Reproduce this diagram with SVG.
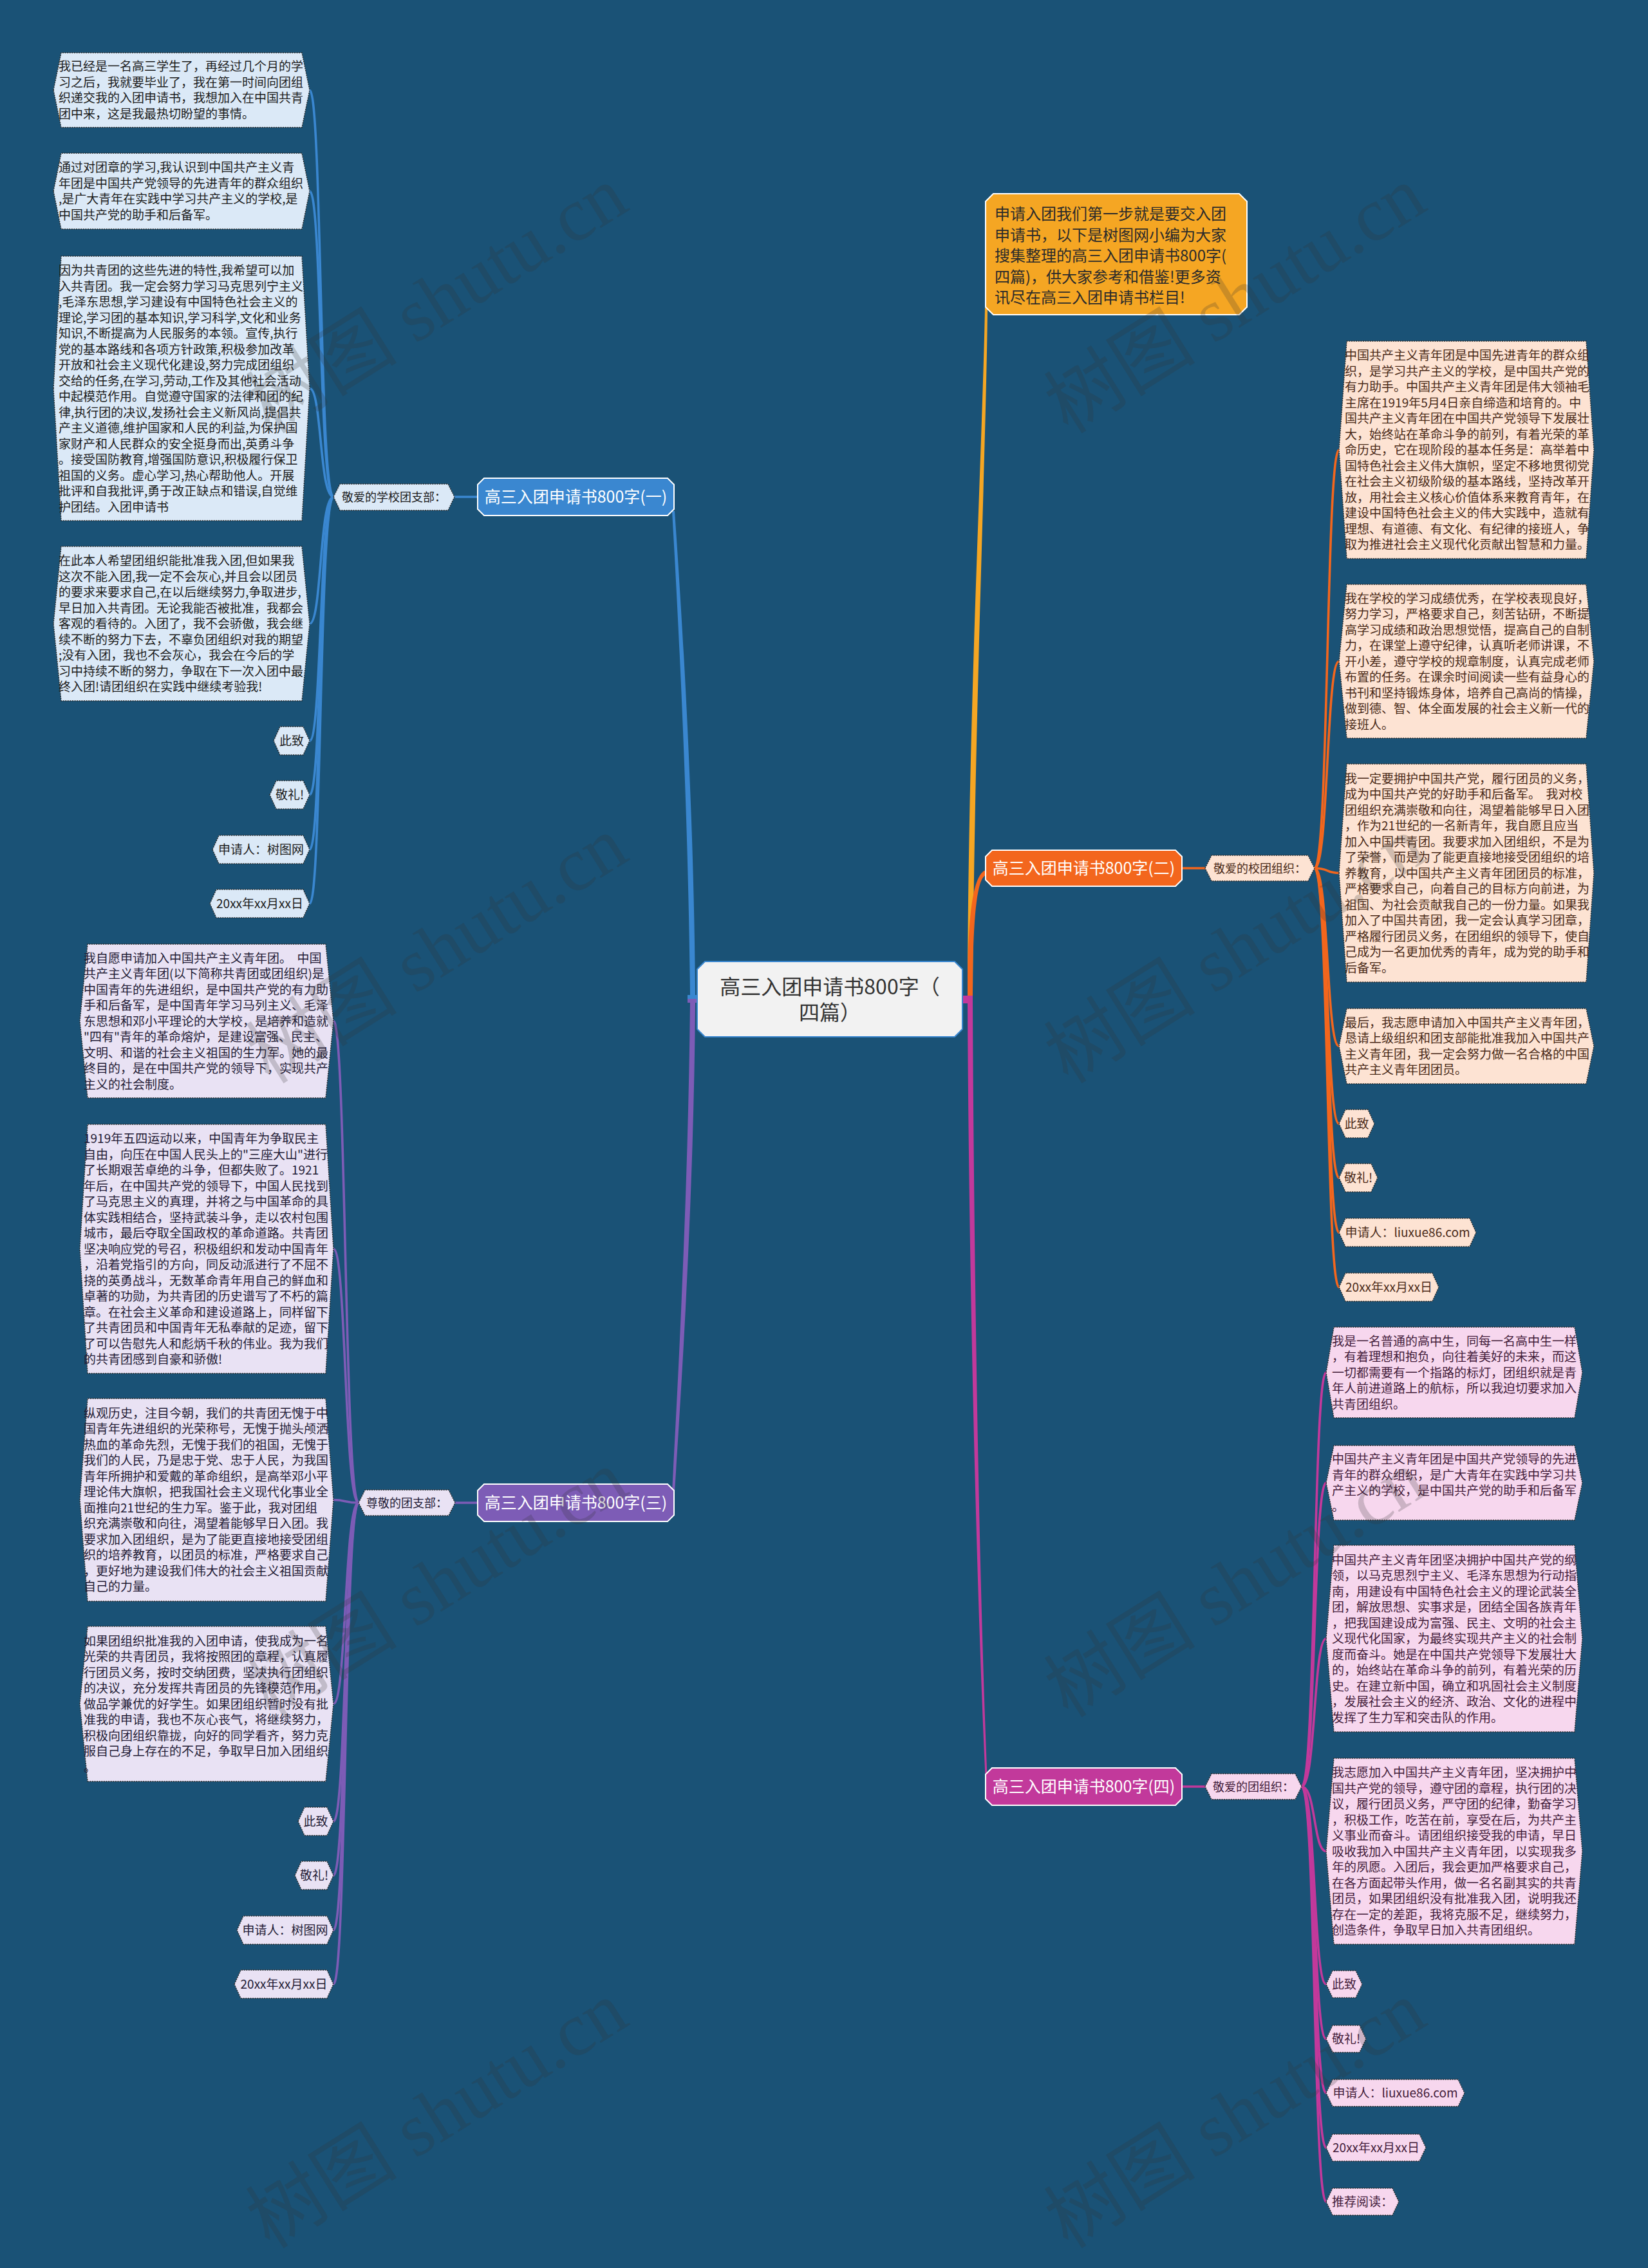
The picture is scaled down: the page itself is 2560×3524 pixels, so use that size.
<svg xmlns="http://www.w3.org/2000/svg" width="2560" height="3524" viewBox="0 0 2560 3524">
<style>
.tx{font-family:"Noto Sans CJK SC","Noto Sans",sans-serif;font-size:19px}
.sb{font-family:"Noto Sans CJK SC","Noto Sans",sans-serif;font-size:18px;text-anchor:middle}
.br{font-family:"Noto Sans CJK SC","Noto Sans",sans-serif;font-size:25px;fill:#fff;text-anchor:middle}
.m{text-anchor:middle}
.lf{stroke:#2a2a2a;stroke-width:1.4;stroke-dasharray:2 1.6}
.f1{fill:#dbe9f7}.f2{fill:#fde3d3}.f3{fill:#e9e2f4}.f4{fill:#f7d7ee}
.c1{fill:#1c1c1c}.c2{fill:#4a2a18}.c3{fill:#241c36}.c4{fill:#431c3a}
.bn{stroke:#fff;stroke-width:2}
.k{fill:none;stroke-width:3.6;stroke-linecap:round}
.wm{font-family:"Liberation Serif","Noto Sans CJK SC",serif;font-size:118px;fill:#333;fill-opacity:0.22;text-anchor:middle}
</style>
<rect x="0" y="0" width="2560" height="3524" fill="#1a5276"/>

<g id="connectors">
  <path fill="#f5a623" d="M1495,1545 L1503,1545 C1504,1100 1526,700 1530,478 L1534,478 C1532,700 1514,1100 1511,1545 Z"/>
  <path fill="#f3661d" d="M1495,1548 L1503,1548 C1503,1430 1510,1360 1531,1352 L1531,1360 C1516,1366 1511,1440 1511,1548 Z"/>
  <path fill="#c2399b" d="M1495,1553 L1511,1553 C1513,2000 1522,2500 1534,2768 L1531,2770 C1518,2500 1505,2000 1503,1559 L1495,1559 Z"/>
  <rect x="1495" y="1547" width="16" height="11" fill="#c2399b"/>
  <path fill="#3a87d0" d="M1083,1546 L1072,1546 C1069,1250 1053,950 1044,794 L1048,794 C1059,950 1078,1250 1080,1546 Z"/>
  <path fill="#7d5cb6" d="M1083,1558 L1072,1558 C1069,1850 1053,2150 1044,2318 L1048,2318 C1059,2150 1078,1850 1080,1558 Z"/>
  <rect x="1068" y="1546" width="16" height="6" fill="#3a87d0"/>
  <rect x="1068" y="1552" width="16" height="6" fill="#7d5cb6"/>
  <path class="k" stroke="#3a87d0" d="M742,772 L706,772"/>
  <path class="k" stroke="#7d5cb6" d="M742,2335 L707,2335"/>
  <path class="k" stroke="#f3661d" d="M1836,1349 L1872,1349"/>
  <path class="k" stroke="#c2399b" d="M1836,2776 L1872,2776"/>
  <g class="k" stroke="#3a87d0">
    <path d="M518,772 C496,772 500,140 481,140"/>
    <path d="M518,772 C496,772 500,297 481,297"/>
    <path d="M518,772 C496,772 500,603.5 481,603.5"/>
    <path d="M518,772 C496,772 500,969 481,969"/>
    <path d="M518,772 C496,772 500,1151 481,1151"/>
    <path d="M518,772 C496,772 500,1235 481,1235"/>
    <path d="M518,772 C496,772 500,1320 481,1320"/>
    <path d="M518,772 C496,772 500,1404 481,1404"/>
  </g>
  <g class="k" stroke="#7d5cb6">
    <path d="M557,2335 C535,2335 538,1586.5 518,1586.5"/>
    <path d="M557,2335 C535,2335 538,1940.5 518,1940.5"/>
    <path d="M557,2335 C535,2335 538,2330.5 518,2330.5"/>
    <path d="M557,2335 C535,2335 538,2647.5 518,2647.5"/>
    <path d="M557,2335 C535,2335 538,2830 518,2830"/>
    <path d="M557,2335 C535,2335 538,2914 518,2914"/>
    <path d="M557,2335 C535,2335 538,2999 518,2999"/>
    <path d="M557,2335 C535,2335 538,3083 518,3083"/>
  </g>
  <g class="k" stroke="#f3661d">
    <path d="M2042,1349 C2064,1349 2060,699 2080,699"/>
    <path d="M2042,1349 C2064,1349 2060,1027.5 2080,1027.5"/>
    <path d="M2042,1349 C2064,1349 2060,1356.5 2080,1356.5"/>
    <path d="M2042,1349 C2064,1349 2060,1625.5 2080,1625.5"/>
    <path d="M2042,1349 C2064,1349 2060,1746 2080,1746"/>
    <path d="M2042,1349 C2064,1349 2060,1830 2080,1830"/>
    <path d="M2042,1349 C2064,1349 2060,1915 2080,1915"/>
    <path d="M2042,1349 C2064,1349 2060,2000 2080,2000"/>
  </g>
  <g class="k" stroke="#c2399b">
    <path d="M2022,2776 C2044,2776 2040,2132.5 2060,2132.5"/>
    <path d="M2022,2776 C2044,2776 2040,2304 2060,2304"/>
    <path d="M2022,2776 C2044,2776 2040,2546 2060,2546"/>
    <path d="M2022,2776 C2044,2776 2040,2876.5 2060,2876.5"/>
    <path d="M2022,2776 C2044,2776 2040,3083 2060,3083"/>
    <path d="M2022,2776 C2044,2776 2040,3168 2060,3168"/>
    <path d="M2022,2776 C2044,2776 2040,3252 2060,3252"/>
    <path d="M2022,2776 C2044,2776 2040,3337 2060,3337"/>
    <path d="M2022,2776 C2044,2776 2040,3421 2060,3421"/>
  </g>
</g>

<g id="node-center">
  <polygon points="1095,1494 1483,1494 1495,1506 1495,1599 1483,1611 1095,1611 1083,1599 1083,1506" fill="#f2f2f2" stroke="#3a87d0" stroke-width="2"/>
  <text class="tx m" style="font-size:32px" fill="#333" x="1289" y="1545">高三入团申请书800字（</text>
  <text class="tx m" style="font-size:32px" fill="#333" x="1289" y="1585">四篇）</text>
</g>

<g id="node-intro">
  <polygon points="1543,301 1925,301 1937,313 1937,477 1925,489 1543,489 1531,477 1531,313" fill="#f5a623" stroke="#fff" stroke-width="2"/>
  <text class="tx" style="font-size:24px" fill="#2b2b2b" x="1545" y="341"><tspan x="1545">申请入团我们第一步就是要交入团</tspan><tspan x="1545" dy="32.5">申请书，以下是树图网小编为大家</tspan><tspan x="1545" dy="32.5">搜集整理的高三入团申请书800字(</tspan><tspan x="1545" dy="32.5">四篇)，供大家参考和借鉴!更多资</tspan><tspan x="1545" dy="32.5">讯尽在高三入团申请书栏目!</tspan></text>
</g>

<g id="node-b1">
  <polygon class="bn" points="752,743 1037,743 1047,753 1047,791 1037,801 752,801 742,791 742,753" fill="#3a87d0"/>
  <text class="br" x="894.5" y="781">高三入团申请书800字(一)</text>
</g>
<g id="node-b1-sub">
  <polygon class="lf f1" points="518,772 528,752 696,752 706,772 696,793 528,793"/>
  <text class="sb c1" x="612" y="779">敬爱的学校团支部：</text>
</g>
<g id="node-b1-l1">
  <polygon class="lf f1" points="83,140 95,82 469,82 481,140 469,198 95,198"/>
  <text class="tx c1" y="110"><tspan x="91">我已经是一名高三学生了，再经过几个月的学</tspan><tspan x="91" dy="24.5">习之后，我就要毕业了，我在第一时间向团组</tspan><tspan x="91" dy="24.5">织递交我的入团申请书，我想加入在中国共青</tspan><tspan x="91" dy="24.5">团中来，这是我最热切盼望的事情。</tspan></text>
</g>
<g id="node-b1-l2">
  <polygon class="lf f1" points="83,297 95,238 469,238 481,297 469,356 95,356"/>
  <text class="tx c1" y="267"><tspan x="91">通过对团章的学习,我认识到中国共产主义青</tspan><tspan x="91" dy="24.5">年团是中国共产党领导的先进青年的群众组织</tspan><tspan x="91" dy="24.5">,是广大青年在实践中学习共产主义的学校,是</tspan><tspan x="91" dy="24.5">中国共产党的助手和后备军。</tspan></text>
</g>
<g id="node-b1-l3">
  <polygon class="lf f1" points="83,603.5 95,398 469,398 481,603.5 469,809 95,809"/>
  <text class="tx c1" y="427"><tspan x="91">因为共青团的这些先进的特性,我希望可以加</tspan><tspan x="91" dy="24.5">入共青团。我一定会努力学习马克思列宁主义</tspan><tspan x="91" dy="24.5">,毛泽东思想,学习建设有中国特色社会主义的</tspan><tspan x="91" dy="24.5">理论,学习团的基本知识,学习科学,文化和业务</tspan><tspan x="91" dy="24.5">知识,不断提高为人民服务的本领。宣传,执行</tspan><tspan x="91" dy="24.5">党的基本路线和各项方针政策,积极参加改革</tspan><tspan x="91" dy="24.5">开放和社会主义现代化建设,努力完成团组织</tspan><tspan x="91" dy="24.5">交给的任务,在学习,劳动,工作及其他社会活动</tspan><tspan x="91" dy="24.5">中起模范作用。自觉遵守国家的法律和团的纪</tspan><tspan x="91" dy="24.5">律,执行团的决议,发扬社会主义新风尚,提倡共</tspan><tspan x="91" dy="24.5">产主义道德,维护国家和人民的利益,为保护国</tspan><tspan x="91" dy="24.5">家财产和人民群众的安全挺身而出,英勇斗争</tspan><tspan x="91" dy="24.5">。接受国防教育,增强国防意识,积极履行保卫</tspan><tspan x="91" dy="24.5">祖国的义务。虚心学习,热心帮助他人。开展</tspan><tspan x="91" dy="24.5">批评和自我批评,勇于改正缺点和错误,自觉维</tspan><tspan x="91" dy="24.5">护团结。入团申请书</tspan></text>
</g>
<g id="node-b1-l4">
  <polygon class="lf f1" points="83,969 95,849 469,849 481,969 469,1089 95,1089"/>
  <text class="tx c1" y="878"><tspan x="91">在此本人希望团组织能批准我入团,但如果我</tspan><tspan x="91" dy="24.5">这次不能入团,我一定不会灰心,并且会以团员</tspan><tspan x="91" dy="24.5">的要求来要求自己,在以后继续努力,争取进步,</tspan><tspan x="91" dy="24.5">早日加入共青团。无论我能否被批准，我都会</tspan><tspan x="91" dy="24.5">客观的看待的。入团了，我不会骄傲，我会继</tspan><tspan x="91" dy="24.5">续不断的努力下去，不辜负团组织对我的期望</tspan><tspan x="91" dy="24.5">;没有入团，我也不会灰心，我会在今后的学</tspan><tspan x="91" dy="24.5">习中持续不断的努力，争取在下一次入团中最</tspan><tspan x="91" dy="24.5">终入团!请团组织在实践中继续考验我!</tspan></text>
</g>
<g id="node-b1-l5">
  <polygon class="lf f1" points="425,1151 435,1129 471,1129 481,1151 471,1173 435,1173"/>
  <text class="tx c1 m" x="453" y="1158">此致</text>
</g>
<g id="node-b1-l6">
  <polygon class="lf f1" points="419,1235 429,1213 471,1213 481,1235 471,1257 429,1257"/>
  <text class="tx c1 m" x="450" y="1242">敬礼!</text>
</g>
<g id="node-b1-l7">
  <polygon class="lf f1" points="330,1320 340,1298 471,1298 481,1320 471,1342 340,1342"/>
  <text class="tx c1 m" x="405.5" y="1327">申请人：树图网</text>
</g>
<g id="node-b1-l8">
  <polygon class="lf f1" points="326,1404 336,1382 471,1382 481,1404 471,1426 336,1426"/>
  <text class="tx c1 m" x="403.5" y="1411">20xx年xx月xx日</text>
</g>

<g id="node-b2">
  <polygon class="bn" points="1541,1321 1826,1321 1836,1331 1836,1367 1826,1377 1541,1377 1531,1367 1531,1331" fill="#f3661d"/>
  <text class="br" x="1683.5" y="1358">高三入团申请书800字(二)</text>
</g>
<g id="node-b2-sub">
  <polygon class="lf f2" points="1872,1349 1882,1329 2032,1329 2042,1349 2032,1369 1882,1369"/>
  <text class="sb c2" x="1957" y="1356">敬爱的校团组织：</text>
</g>
<g id="node-b2-l1">
  <polygon class="lf f2" points="2080,699 2092,530 2464,530 2476,699 2464,868 2092,868"/>
  <text class="tx c2" y="559"><tspan x="2089">中国共产主义青年团是中国先进青年的群众组</tspan><tspan x="2089" dy="24.5">织，是学习共产主义的学校，是中国共产党的</tspan><tspan x="2089" dy="24.5">有力助手。中国共产主义青年团是伟大领袖毛</tspan><tspan x="2089" dy="24.5">主席在1919年5月4日亲自缔造和培育的。中</tspan><tspan x="2089" dy="24.5">国共产主义青年团在中国共产党领导下发展壮</tspan><tspan x="2089" dy="24.5">大，始终站在革命斗争的前列，有着光荣的革</tspan><tspan x="2089" dy="24.5">命历史，它在现阶段的基本任务是：高举着中</tspan><tspan x="2089" dy="24.5">国特色社会主义伟大旗帜，坚定不移地贯彻党</tspan><tspan x="2089" dy="24.5">在社会主义初级阶级的基本路线，坚持改革开</tspan><tspan x="2089" dy="24.5">放，用社会主义核心价值体系来教育青年，在</tspan><tspan x="2089" dy="24.5">建设中国特色社会主义的伟大实践中，造就有</tspan><tspan x="2089" dy="24.5">理想、有道德、有文化、有纪律的接班人，争</tspan><tspan x="2089" dy="24.5">取为推进社会主义现代化贡献出智慧和力量。</tspan></text>
</g>
<g id="node-b2-l2">
  <polygon class="lf f2" points="2080,1027.5 2092,908 2464,908 2476,1027.5 2464,1147 2092,1147"/>
  <text class="tx c2" y="936.5"><tspan x="2089">我在学校的学习成绩优秀，在学校表现良好，</tspan><tspan x="2089" dy="24.5">努力学习，严格要求自己，刻苦钻研，不断提</tspan><tspan x="2089" dy="24.5">高学习成绩和政治思想觉悟，提高自己的自制</tspan><tspan x="2089" dy="24.5">力，在课堂上遵守纪律，认真听老师讲课，不</tspan><tspan x="2089" dy="24.5">开小差，遵守学校的规章制度，认真完成老师</tspan><tspan x="2089" dy="24.5">布置的任务。在课余时间阅读一些有益身心的</tspan><tspan x="2089" dy="24.5">书刊和坚持锻炼身体，培养自己高尚的情操，</tspan><tspan x="2089" dy="24.5">做到德、智、体全面发展的社会主义新一代的</tspan><tspan x="2089" dy="24.5">接班人。</tspan></text>
</g>
<g id="node-b2-l3">
  <polygon class="lf f2" points="2080,1356.5 2092,1187 2464,1187 2476,1356.5 2464,1526 2092,1526"/>
  <text class="tx c2" y="1216.5" xml:space="preserve"><tspan x="2089">我一定要拥护中国共产党，履行团员的义务，</tspan><tspan x="2089" dy="24.5">成为中国共产党的好助手和后备军。  我对校</tspan><tspan x="2089" dy="24.5">团组织充满崇敬和向往，渴望着能够早日入团</tspan><tspan x="2089" dy="24.5">，作为21世纪的一名新青年，我自愿且应当</tspan><tspan x="2089" dy="24.5">加入中国共青团。我要求加入团组织，不是为</tspan><tspan x="2089" dy="24.5">了荣誉，而是为了能更直接地接受团组织的培</tspan><tspan x="2089" dy="24.5">养教育，以中国共产主义青年团团员的标准，</tspan><tspan x="2089" dy="24.5">严格要求自己，向着自己的目标方向前进，为</tspan><tspan x="2089" dy="24.5">祖国、为社会贡献我自己的一份力量。如果我</tspan><tspan x="2089" dy="24.5">加入了中国共青团，我一定会认真学习团章，</tspan><tspan x="2089" dy="24.5">严格履行团员义务，在团组织的领导下，使自</tspan><tspan x="2089" dy="24.5">己成为一名更加优秀的青年，成为党的助手和</tspan><tspan x="2089" dy="24.5">后备军。</tspan></text>
</g>
<g id="node-b2-l4">
  <polygon class="lf f2" points="2080,1625.5 2092,1567 2464,1567 2476,1625.5 2464,1684 2092,1684"/>
  <text class="tx c2" y="1595.75"><tspan x="2089">最后，我志愿申请加入中国共产主义青年团，</tspan><tspan x="2089" dy="24.5">恳请上级组织和团支部能批准我加入中国共产</tspan><tspan x="2089" dy="24.5">主义青年团，我一定会努力做一名合格的中国</tspan><tspan x="2089" dy="24.5">共产主义青年团团员。</tspan></text>
</g>
<g id="node-b2-l5">
  <polygon class="lf f2" points="2080,1746 2090,1724 2125,1724 2135,1746 2125,1768 2090,1768"/>
  <text class="tx c2 m" x="2107.5" y="1753">此致</text>
</g>
<g id="node-b2-l6">
  <polygon class="lf f2" points="2080,1830 2090,1808 2130,1808 2140,1830 2130,1852 2090,1852"/>
  <text class="tx c2 m" x="2110" y="1837">敬礼!</text>
</g>
<g id="node-b2-l7">
  <polygon class="lf f2" points="2080,1915 2090,1893 2283,1893 2293,1915 2283,1937 2090,1937"/>
  <text class="tx c2 m" x="2186.5" y="1922">申请人：liuxue86.com</text>
</g>
<g id="node-b2-l8">
  <polygon class="lf f2" points="2080,2000 2090,1978 2225,1978 2235,2000 2225,2022 2090,2022"/>
  <text class="tx c2 m" x="2157.5" y="2007">20xx年xx月xx日</text>
</g>

<g id="node-b3">
  <polygon class="bn" points="752,2306 1037,2306 1047,2316 1047,2354 1037,2364 752,2364 742,2354 742,2316" fill="#7d5cb6"/>
  <text class="br" x="894.5" y="2344">高三入团申请书800字(三)</text>
</g>
<g id="node-b3-sub">
  <polygon class="lf f3" points="557,2335 567,2315 697,2315 707,2335 697,2355 567,2355"/>
  <text class="sb c3" x="632" y="2342">尊敬的团支部：</text>
</g>
<g id="node-b3-l1">
  <polygon class="lf f3" points="124,1586.5 136,1467 506,1467 518,1586.5 506,1706 136,1706"/>
  <text class="tx c3" y="1495.5" xml:space="preserve"><tspan x="130">我自愿申请加入中国共产主义青年团。  中国</tspan><tspan x="130" dy="24.5">共产主义青年团(以下简称共青团或团组织)是</tspan><tspan x="130" dy="24.5">中国青年的先进组织，是中国共产党的有力助</tspan><tspan x="130" dy="24.5">手和后备军，是中国青年学习马列主义、毛泽</tspan><tspan x="130" dy="24.5">东思想和邓小平理论的大学校，是培养和造就</tspan><tspan x="130" dy="24.5">"四有"青年的革命熔炉，是建设富强、民主、</tspan><tspan x="130" dy="24.5">文明、和谐的社会主义祖国的生力军。她的最</tspan><tspan x="130" dy="24.5">终目的，是在中国共产党的领导下，实现共产</tspan><tspan x="130" dy="24.5">主义的社会制度。</tspan></text>
</g>
<g id="node-b3-l2">
  <polygon class="lf f3" points="124,1940.5 136,1747 506,1747 518,1940.5 506,2134 136,2134"/>
  <text class="tx c3" y="1776"><tspan x="130">1919年五四运动以来，中国青年为争取民主</tspan><tspan x="130" dy="24.5">自由，向压在中国人民头上的"三座大山"进行</tspan><tspan x="130" dy="24.5">了长期艰苦卓绝的斗争，但都失败了。1921</tspan><tspan x="130" dy="24.5">年后，在中国共产党的领导下，中国人民找到</tspan><tspan x="130" dy="24.5">了马克思主义的真理，并将之与中国革命的具</tspan><tspan x="130" dy="24.5">体实践相结合，坚持武装斗争，走以农村包围</tspan><tspan x="130" dy="24.5">城市，最后夺取全国政权的革命道路。共青团</tspan><tspan x="130" dy="24.5">坚决响应党的号召，积极组织和发动中国青年</tspan><tspan x="130" dy="24.5">，沿着党指引的方向，同反动派进行了不屈不</tspan><tspan x="130" dy="24.5">挠的英勇战斗，无数革命青年用自己的鲜血和</tspan><tspan x="130" dy="24.5">卓著的功勋，为共青团的历史谱写了不朽的篇</tspan><tspan x="130" dy="24.5">章。在社会主义革命和建设道路上，同样留下</tspan><tspan x="130" dy="24.5">了共青团员和中国青年无私奉献的足迹，留下</tspan><tspan x="130" dy="24.5">了可以告慰先人和彪炳千秋的伟业。我为我们</tspan><tspan x="130" dy="24.5">的共青团感到自豪和骄傲!</tspan></text>
</g>
<g id="node-b3-l3">
  <polygon class="lf f3" points="124,2330.5 136,2173 506,2173 518,2330.5 506,2488 136,2488"/>
  <text class="tx c3" y="2202.75"><tspan x="130">纵观历史，注目今朝，我们的共青团无愧于中</tspan><tspan x="130" dy="24.5">国青年先进组织的光荣称号，无愧于抛头颅洒</tspan><tspan x="130" dy="24.5">热血的革命先烈，无愧于我们的祖国，无愧于</tspan><tspan x="130" dy="24.5">我们的人民，乃是忠于党、忠于人民，为我国</tspan><tspan x="130" dy="24.5">青年所拥护和爱戴的革命组织，是高举邓小平</tspan><tspan x="130" dy="24.5">理论伟大旗帜，把我国社会主义现代化事业全</tspan><tspan x="130" dy="24.5">面推向21世纪的生力军。鉴于此，我对团组</tspan><tspan x="130" dy="24.5">织充满崇敬和向往，渴望着能够早日入团。我</tspan><tspan x="130" dy="24.5">要求加入团组织，是为了能更直接地接受团组</tspan><tspan x="130" dy="24.5">织的培养教育，以团员的标准，严格要求自己</tspan><tspan x="130" dy="24.5">，更好地为建设我们伟大的社会主义祖国贡献</tspan><tspan x="130" dy="24.5">自己的力量。</tspan></text>
</g>
<g id="node-b3-l4">
  <polygon class="lf f3" points="124,2647.5 136,2527 506,2527 518,2647.5 506,2768 136,2768"/>
  <text class="tx c3" y="2556.5"><tspan x="130">如果团组织批准我的入团申请，使我成为一名</tspan><tspan x="130" dy="24.5">光荣的共青团员，我将按照团的章程，认真履</tspan><tspan x="130" dy="24.5">行团员义务，按时交纳团费，坚决执行团组织</tspan><tspan x="130" dy="24.5">的决议，充分发挥共青团员的先锋模范作用，</tspan><tspan x="130" dy="24.5">做品学兼优的好学生。如果团组织暂时没有批</tspan><tspan x="130" dy="24.5">准我的申请，我也不灰心丧气，将继续努力，</tspan><tspan x="130" dy="24.5">积极向团组织靠拢，向好的同学看齐，努力克</tspan><tspan x="130" dy="24.5">服自己身上存在的不足，争取早日加入团组织</tspan><tspan x="130" dy="24.5">。</tspan></text>
</g>
<g id="node-b3-l5">
  <polygon class="lf f3" points="463,2830 473,2808 508,2808 518,2830 508,2852 473,2852"/>
  <text class="tx c3 m" x="490.5" y="2837">此致</text>
</g>
<g id="node-b3-l6">
  <polygon class="lf f3" points="458,2914 468,2892 508,2892 518,2914 508,2936 468,2936"/>
  <text class="tx c3 m" x="488" y="2921">敬礼!</text>
</g>
<g id="node-b3-l7">
  <polygon class="lf f3" points="368,2999 378,2977 508,2977 518,2999 508,3021 378,3021"/>
  <text class="tx c3 m" x="443" y="3006">申请人：树图网</text>
</g>
<g id="node-b3-l8">
  <polygon class="lf f3" points="364,3083 374,3061 508,3061 518,3083 508,3105 374,3105"/>
  <text class="tx c3 m" x="441" y="3090">20xx年xx月xx日</text>
</g>

<g id="node-b4">
  <polygon class="bn" points="1541,2747 1826,2747 1836,2757 1836,2795 1826,2805 1541,2805 1531,2795 1531,2757" fill="#c2399b"/>
  <text class="br" x="1683.5" y="2785">高三入团申请书800字(四)</text>
</g>
<g id="node-b4-sub">
  <polygon class="lf f4" points="1872,2776 1882,2756 2012,2756 2022,2776 2012,2796 1882,2796"/>
  <text class="sb c4" x="1947" y="2783">敬爱的团组织：</text>
</g>
<g id="node-b4-l1">
  <polygon class="lf f4" points="2060,2132.5 2072,2062 2446,2062 2458,2132.5 2446,2203 2072,2203"/>
  <text class="tx c4" y="2090.5"><tspan x="2069">我是一名普通的高中生，同每一名高中生一样</tspan><tspan x="2069" dy="24.5">，有着理想和抱负，向往着美好的未来，而这</tspan><tspan x="2069" dy="24.5">一切都需要有一个指路的标灯，团组织就是青</tspan><tspan x="2069" dy="24.5">年人前进道路上的航标，所以我迫切要求加入</tspan><tspan x="2069" dy="24.5">共青团组织。</tspan></text>
</g>
<g id="node-b4-l2">
  <polygon class="lf f4" points="2060,2304 2072,2246 2446,2246 2458,2304 2446,2362 2072,2362"/>
  <text class="tx c4" y="2274.25"><tspan x="2069">中国共产主义青年团是中国共产党领导的先进</tspan><tspan x="2069" dy="24.5">青年的群众组织，是广大青年在实践中学习共</tspan><tspan x="2069" dy="24.5">产主义的学校，是中国共产党的助手和后备军</tspan><tspan x="2069" dy="24.5">。</tspan></text>
</g>
<g id="node-b4-l3">
  <polygon class="lf f4" points="2060,2546 2072,2401 2446,2401 2458,2546 2446,2691 2072,2691"/>
  <text class="tx c4" y="2430.5"><tspan x="2069">中国共产主义青年团坚决拥护中国共产党的纲</tspan><tspan x="2069" dy="24.5">领，以马克思烈宁主义、毛泽东思想为行动指</tspan><tspan x="2069" dy="24.5">南，用建设有中国特色社会主义的理论武装全</tspan><tspan x="2069" dy="24.5">团，解放思想、实事求是，团结全国各族青年</tspan><tspan x="2069" dy="24.5">，把我国建设成为富强、民主、文明的社会主</tspan><tspan x="2069" dy="24.5">义现代化国家，为最终实现共产主义的社会制</tspan><tspan x="2069" dy="24.5">度而奋斗。她是在中国共产党领导下发展壮大</tspan><tspan x="2069" dy="24.5">的，始终站在革命斗争的前列，有着光荣的历</tspan><tspan x="2069" dy="24.5">史。在建立新中国，确立和巩固社会主义制度</tspan><tspan x="2069" dy="24.5">，发展社会主义的经济、政治、文化的进程中</tspan><tspan x="2069" dy="24.5">发挥了生力军和突击队的作用。</tspan></text>
</g>
<g id="node-b4-l4">
  <polygon class="lf f4" points="2060,2876.5 2072,2732 2446,2732 2458,2876.5 2446,3021 2072,3021"/>
  <text class="tx c4" y="2761"><tspan x="2069">我志愿加入中国共产主义青年团，坚决拥护中</tspan><tspan x="2069" dy="24.5">国共产党的领导，遵守团的章程，执行团的决</tspan><tspan x="2069" dy="24.5">议，履行团员义务，严守团的纪律，勤奋学习</tspan><tspan x="2069" dy="24.5">，积极工作，吃苦在前，享受在后，为共产主</tspan><tspan x="2069" dy="24.5">义事业而奋斗。请团组织接受我的申请，早日</tspan><tspan x="2069" dy="24.5">吸收我加入中国共产主义青年团，以实现我多</tspan><tspan x="2069" dy="24.5">年的夙愿。入团后，我会更加严格要求自己，</tspan><tspan x="2069" dy="24.5">在各方面起带头作用，做一名名副其实的共青</tspan><tspan x="2069" dy="24.5">团员，如果团组织没有批准我入团，说明我还</tspan><tspan x="2069" dy="24.5">存在一定的差距，我将克服不足，继续努力，</tspan><tspan x="2069" dy="24.5">创造条件，争取早日加入共青团组织。</tspan></text>
</g>
<g id="node-b4-l5">
  <polygon class="lf f4" points="2060,3083 2070,3062 2106,3062 2116,3083 2106,3104 2070,3104"/>
  <text class="tx c4 m" x="2088" y="3090">此致</text>
</g>
<g id="node-b4-l6">
  <polygon class="lf f4" points="2060,3168 2070,3147 2112,3147 2122,3168 2112,3189 2070,3189"/>
  <text class="tx c4 m" x="2091" y="3175">敬礼!</text>
</g>
<g id="node-b4-l7">
  <polygon class="lf f4" points="2060,3252 2070,3231 2265,3231 2275,3252 2265,3273 2070,3273"/>
  <text class="tx c4 m" x="2167.5" y="3259">申请人：liuxue86.com</text>
</g>
<g id="node-b4-l8">
  <polygon class="lf f4" points="2060,3337 2070,3316 2205,3316 2215,3337 2205,3358 2070,3358"/>
  <text class="tx c4 m" x="2137.5" y="3344">20xx年xx月xx日</text>
</g>
<g id="node-b4-l9">
  <polygon class="lf f4" points="2060,3421 2070,3400 2163,3400 2173,3421 2163,3442 2070,3442"/>
  <text class="tx c4 m" x="2116.5" y="3428">推荐阅读：</text>
</g>

<g id="watermarks">
  <text class="wm" transform="translate(700,500) rotate(-32)">树图 shutu.cn</text>
  <text class="wm" transform="translate(1940,500) rotate(-32)">树图 shutu.cn</text>
  <text class="wm" transform="translate(700,1510) rotate(-32)">树图 shutu.cn</text>
  <text class="wm" transform="translate(1940,1510) rotate(-32)">树图 shutu.cn</text>
  <text class="wm" transform="translate(700,2495) rotate(-32)">树图 shutu.cn</text>
  <text class="wm" transform="translate(1940,2495) rotate(-32)">树图 shutu.cn</text>
  <text class="wm" transform="translate(700,3320) rotate(-32)">树图 shutu.cn</text>
  <text class="wm" transform="translate(1940,3320) rotate(-32)">树图 shutu.cn</text>
</g>
</svg>
